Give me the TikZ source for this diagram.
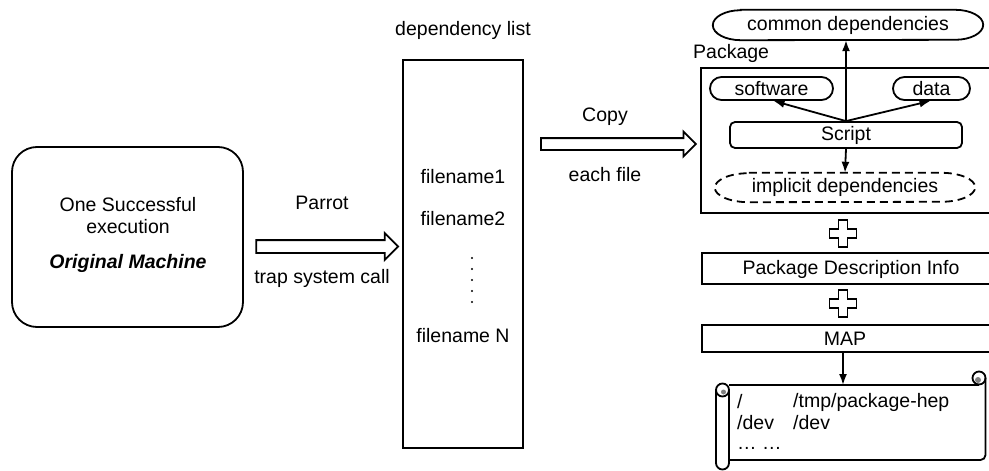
\documentclass[tikz,border=0pt]{standalone}
\usepackage{fontspec}
\setmainfont{Liberation Sans}
\usetikzlibrary{shapes.misc,shapes.arrows,arrows.meta}

% oval outline with elliptical ends drawn around a named node:
% #1 node, #2 horizontal end radius, #3 vertical end radius, #4 extra options
\newcommand{\ovaloutline}[4]{%
  \draw[line width=1.8pt,#4]
    ([xshift=#2]#1.north west) -- ([xshift=-#2]#1.north east)
    arc[start angle=90,end angle=-90,x radius=#2,y radius=#3]
    -- ([xshift=#2]#1.south west)
    arc[start angle=270,end angle=90,x radius=#2,y radius=#3] -- cycle;}

% hollow plus sign centred on a named coordinate
\newcommand{\hollowplus}[1]{%
  \draw[line width=1.6pt] (#1) ++(-4.5,-13.5) -- ++(9,0) -- ++(0,9) -- ++(9,0)
    -- ++(0,9) -- ++(-9,0) -- ++(0,9) -- ++(-9,0) -- ++(0,-9) -- ++(-9,0)
    -- ++(0,-9) -- ++(9,0) -- cycle;}

\begin{document}
\begin{tikzpicture}[x=1pt,y=-1pt,
  every node/.style={font=\fontsize{19.5}{22}\selectfont, inner sep=0pt},
  box/.style={draw, line width=1.8pt, rectangle, inner sep=0pt},
  pill/.style={draw, line width=1.8pt, rounded rectangle, inner sep=0pt},
  blockarrow/.style={draw, line width=1.8pt, single arrow,
    single arrow head indent=0pt, inner xsep=0pt},
  link/.style={line width=1.8pt, -{Latex[length=11pt,width=8pt]}},
  scrollline/.style={line width=1.8pt},
]
\useasboundingbox (0,0) rectangle (989,471);
\clip (0,0) rectangle (989,471);

% ---------- original machine ----------
\node[draw, line width=1.8pt, rounded corners=25pt,
      minimum width=231pt, minimum height=180pt] (machine) at (127.5,237) {};
\node[align=center] (machinetext) at (128,216) {One Successful\\execution};
\node (machinelabel) at (128,263) {\bfseries\itshape Original Machine};

% ---------- Parrot arrow ----------
\node[blockarrow, inner ysep=5.5pt, minimum height=142pt,
      single arrow head extend=7pt] (parrotarrow) at (324,246.5) {};
\node (parrot) at (322,203) {Parrot};
\node (trap) at (322,278) {trap system call};

% ---------- dependency list ----------
\node[box, minimum width=120pt, minimum height=388pt] (deplist) at (463,254) {};
\node (deptitle) at (463,30) {dependency list};
\node (fileone) at (463,177) {filename1};
\node (filetwo) at (463,219) {filename2};
\foreach \k in {0,...,4} \fill (472,258+11*\k) circle (1.2pt);
\node (filen) at (463,336) {filename N};

% ---------- Copy arrow ----------
\node[blockarrow, inner ysep=5pt, minimum height=155pt,
      single arrow head extend=6.5pt] (copyarrow) at (615.5,144) {};
\node (copy) at (605,117) {Copy};
\node (eachfile) at (605,175) {each file};

% ---------- package ----------
\node[minimum width=270pt, minimum height=30pt] (common) at (848,25) {common dependencies};
\ovaloutline{common}{28pt}{15pt}{}
\node[anchor=west] (pkglabel) at (693,53) {Package};
\node[box, minimum width=299pt, minimum height=145pt] (package) at (850.5,140.5) {};
\node[pill, minimum width=123pt, minimum height=23pt] (software) at (771.5,88.5) {software};
\node[pill, minimum width=77pt, minimum height=23pt] (data) at (931.5,88.5) {data};
\node[draw, line width=1.8pt, rounded corners=5pt, minimum width=232pt,
      minimum height=26pt] (script) at (846,135) {Script};
\node[minimum width=260pt, minimum height=29pt] (implicit) at (845,187.5) {implicit dependencies};
\ovaloutline{implicit}{34pt}{14.5pt}{dash pattern=on 8pt off 5pt}

\draw[link] (script.north) -- (script.north |- common.south);
\draw[link] (script.north) -- ([xshift=2pt]software.south);
\draw[link] (script.north) -- ([xshift=-1pt]data.south);
\draw[link] (script.south) -- (implicit.north);

% ---------- description info and map ----------
\coordinate (plusone) at (843,233.5);
\hollowplus{plusone}
\node[box, minimum width=298pt, minimum height=31pt] (descinfo) at (851,268.5) {};
\node (desctext) at (851,269) {Package Description Info};
\coordinate (plustwo) at (843,303.5);
\hollowplus{plustwo}
\node[box, minimum width=298pt, minimum height=27pt] (mapbox) at (851,338.5) {};
\node (maptext) at (845,339) {MAP};

% ---------- mapping scroll ----------
\coordinate (scrolltop) at (843,385);
\draw[link] (mapbox.south -| scrolltop) -- (scrolltop);
% sheet
\draw[scrollline] (729,385) -- (979,385);
\draw[scrollline, rounded corners=5pt] (985.5,378) -- (985.5,460) -- (729,460);
\draw[scrollline] (979,378) circle (6.5pt);
\fill[gray] (978,380) circle (3pt);
% left roll
\draw[scrollline] (716,390) -- (716,463)
  arc[start angle=180,end angle=360,radius=6.5pt] -- (729,390);
\draw[scrollline] (722.5,390) circle (6.5pt);
\fill[gray] (723.5,392) circle (2.5pt);
\node[anchor=west] (rootsrc) at (737,402) {/};
\node[anchor=west] (rootdst) at (793,402) {/tmp/package-hep};
\node[anchor=west] (devsrc) at (737,423) {/dev};
\node[anchor=west] (devdst) at (793,423) {/dev};
\node[anchor=west] (moremaps) at (737,448) {… …};
\end{tikzpicture}
\end{document}
